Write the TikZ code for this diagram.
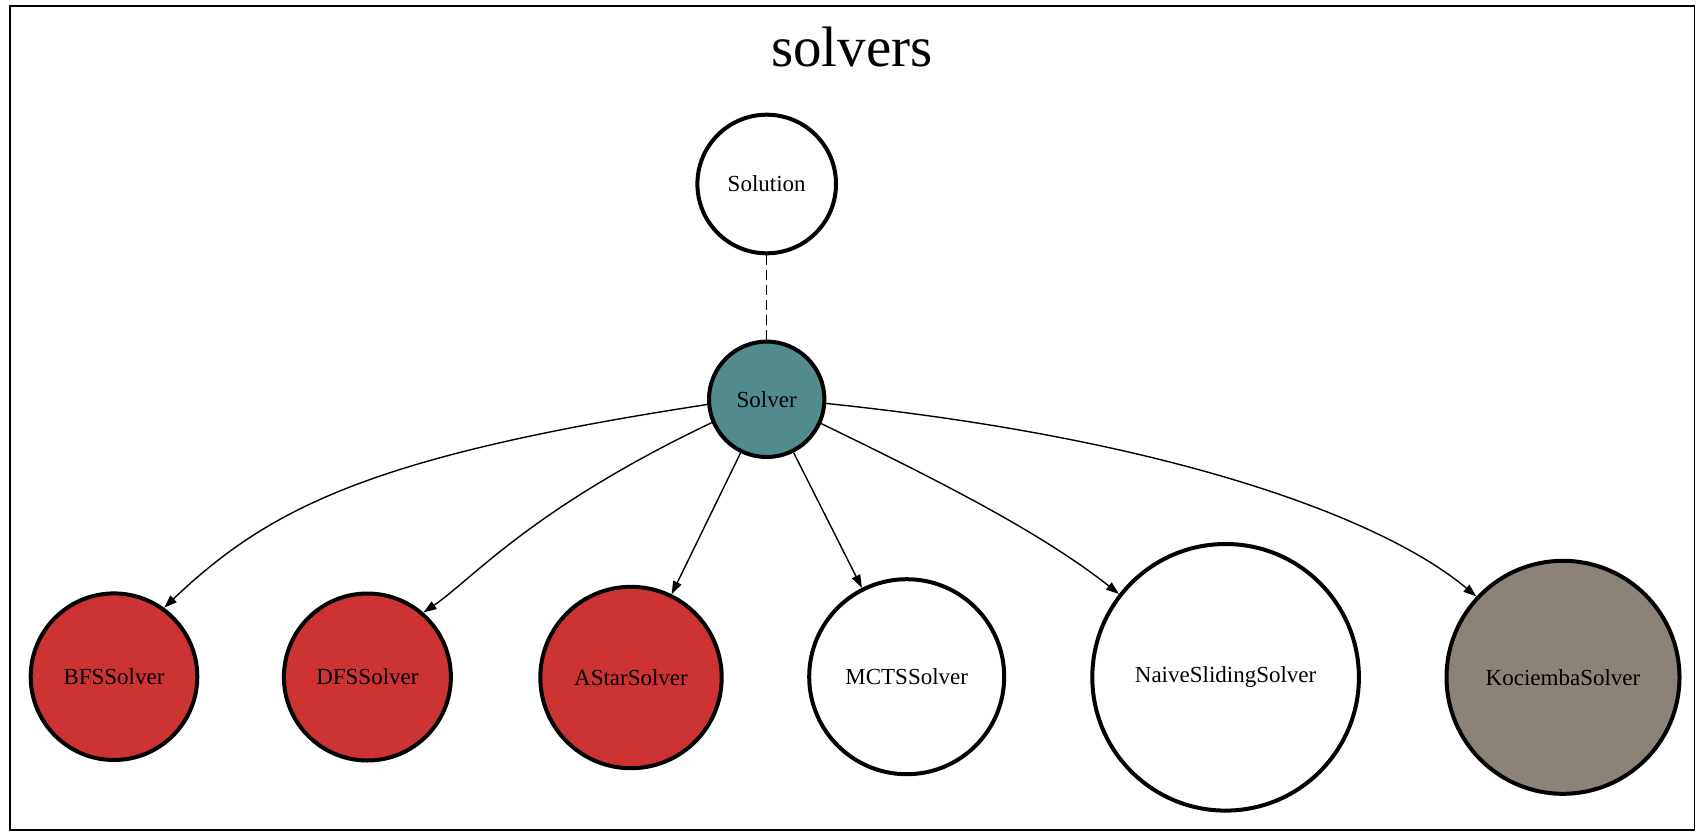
\documentclass[tikz,border=0pt]{standalone}
\usepackage{fontspec}
\setmainfont{Liberation Serif}
\usetikzlibrary{arrows.meta}
\definecolor{tealfour}{HTML}{528B8B}
\definecolor{redthree}{HTML}{CD3333}
\definecolor{warmgray}{HTML}{8B8378}
\begin{document}
\begin{tikzpicture}[x=1pt,y=1pt,
  cls/.style={circle, draw=black, line width=4pt, inner sep=0pt, text=black,
              font=\fontsize{23}{23}\selectfont},
  edge/.style={line width=1.4pt, -{Triangle[length=13pt,width=9pt]}},
  dashedge/.style={line width=1.4pt, dash pattern=on 10pt off 5pt},
  frame/.style={draw=black, line width=1.6pt}
  ]
\fill[white] (0,0) rectangle (1702,-838);
\useasboundingbox (0,0) rectangle (1702,-838);
\draw[frame] (10,-6) rectangle (1694.3,-830);
\node[anchor=base, font=\fontsize{57}{57}\selectfont] (title) at (852,-66.7) {solvers};

\node[cls, fill=white,     minimum size=138.6] (solution) at (766.7,-184)   {Solution};
\node[cls, fill=tealfour,  minimum size=115.4] (solver)   at (766.7,-399.3) {Solver};
\node[cls, fill=redthree,  minimum size=166.6] (bfs)      at (114,-676.7)   {BFSSolver};
\node[cls, fill=redthree,  minimum size=167]   (dfs)      at (367.4,-677)   {DFSSolver};
\node[cls, fill=redthree,  minimum size=181.4] (astar)    at (631,-677.5)   {AStarSolver};
\node[cls, fill=white,     minimum size=195]   (mcts)     at (906.7,-676.7) {MCTSSolver};
\node[cls, fill=white,     minimum size=266.6] (naive)    at (1225.6,-677.3){NaiveSlidingSolver};
\node[cls, fill=warmgray,  minimum size=233]   (koc)      at (1563,-677.3)  {KociembaSolver};

\draw[dashedge] (solution) -- (solver);
\draw[edge] (solver.185) .. controls +(188.7:340) and +(43.5:145) .. (bfs.54);
\draw[edge] (solver.203) .. controls +(205.5:200) and +(34.4:60) .. (dfs.49);
\draw[edge] (solver) -- (astar);
\draw[edge] (solver) -- (mcts);
\draw[edge] (solver.-24) .. controls +(-25.9:130) and +(141.7:100) .. (naive.142);
\draw[edge] (solver.-4) .. controls +(-5.9:350) and +(140:120) .. (koc.137);
\end{tikzpicture}
\end{document}
